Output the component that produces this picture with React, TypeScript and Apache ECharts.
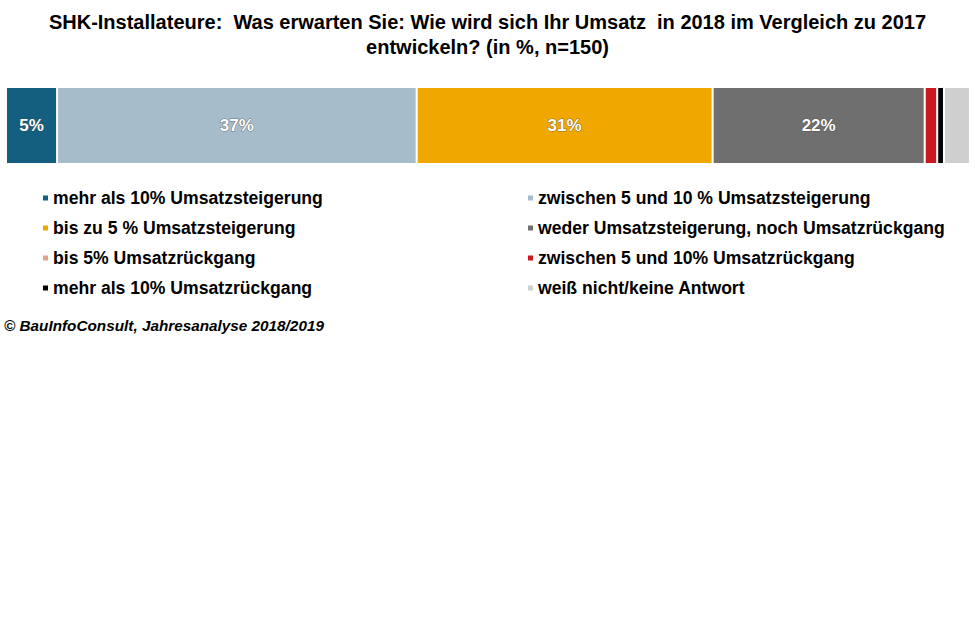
import React, { useEffect, useRef } from "react";
import * as echarts from "echarts";

const titleLines = [
  "SHK-Installateure:  Was erwarten Sie: Wie wird sich Ihr Umsatz  in 2018 im Vergleich zu 2017",
  "entwickeln? (in %, n=150)",
];
const categories = ["Umsatz 2018"];
const seriesNames = [
  "mehr als 10% Umsatzsteigerung",
  "zwischen 5 und 10 % Umsatzsteigerung",
  "bis zu 5 % Umsatzsteigerung",
  "weder Umsatzsteigerung, noch Umsatzrückgang",
  "bis 5% Umsatzrückgang",
  "zwischen 5 und 10% Umsatzrückgang",
  "mehr als 10% Umsatzrückgang",
  "weiß nicht/keine Antwort",
];
const seriesValues = [5.3, 37.3, 30.7, 22.0, 0, 1.3, 0.7, 2.7];
const shownLabels = [true, true, true, true, false, false, false, false];
const colors = ["#145f80", "#a7bccb", "#f0a800", "#6f6f6f", "#e3a08f", "#c81a1f", "#000000", "#cfcfcf"];
const footer = "© BauInfoConsult, Jahresanalyse 2018/2019";

export default function App() {
  const ref = useRef<HTMLDivElement>(null);
  useEffect(() => {
    if (!ref.current) return;
    const chart = echarts.init(ref.current, null, { renderer: "svg" });
    const font = "'Liberation Sans', Arial, sans-serif";
    const legendPos = seriesNames.map((_, i) => ({
      left: i % 2 === 0 ? 41 : 526,
      top: 189 + Math.floor(i / 2) * 30,
    }));
    chart.setOption({
      animation: false,
      title: {
        text: titleLines.join("\n"),
        left: "center",
        top: 4,
        textStyle: {
          fontFamily: font,
          fontSize: 20,
          fontWeight: "bold",
          color: "#000",
          lineHeight: 25,
        },
      },
      grid: { left: 6, right: 5, top: 87, height: 77, containLabel: false },
      xAxis: { type: "value", min: 0, max: 100, show: false },
      yAxis: { type: "category", data: categories, show: false },
      legend: seriesNames.map((name, i) => ({
        data: [name],
        left: legendPos[i].left,
        top: legendPos[i].top,
        icon: "rect",
        itemWidth: 7,
        itemHeight: 7,
        itemGap: 0,
        padding: 0,
        selectedMode: false,
        textStyle: { fontFamily: font, fontSize: 17.6, fontWeight: "bold", color: "#000", padding: [0, 0, 0, -1] },
      })),
      graphic: [
        {
          type: "text",
          left: 4,
          top: 318,
          style: {
            text: footer,
            font: `italic bold 15.3px ${font}`,
            fill: "#000",
          },
        },
      ],
      series: seriesNames.map((name, i) => ({
        name,
        type: "bar",
        stack: "total",
        barWidth: "100%",
        data: [seriesValues[i]],
        itemStyle: { color: colors[i], borderColor: "#fff", borderWidth: 1 },
        label: {
          show: shownLabels[i],
          position: "inside",
          formatter: (p: any) => `${Math.round(p.value)}%`,
          color: "#fff",
          fontFamily: font,
          fontSize: 17,
          fontWeight: "bold",
          textBorderColor: "rgba(60,60,60,0.6)",
          textBorderWidth: 1,
        },
      })),
    });
    return () => chart.dispose();
  }, []);
  return <div ref={ref} style={{ width: 975, height: 637, position: "absolute", left: 0, top: 0 }} />;
}
